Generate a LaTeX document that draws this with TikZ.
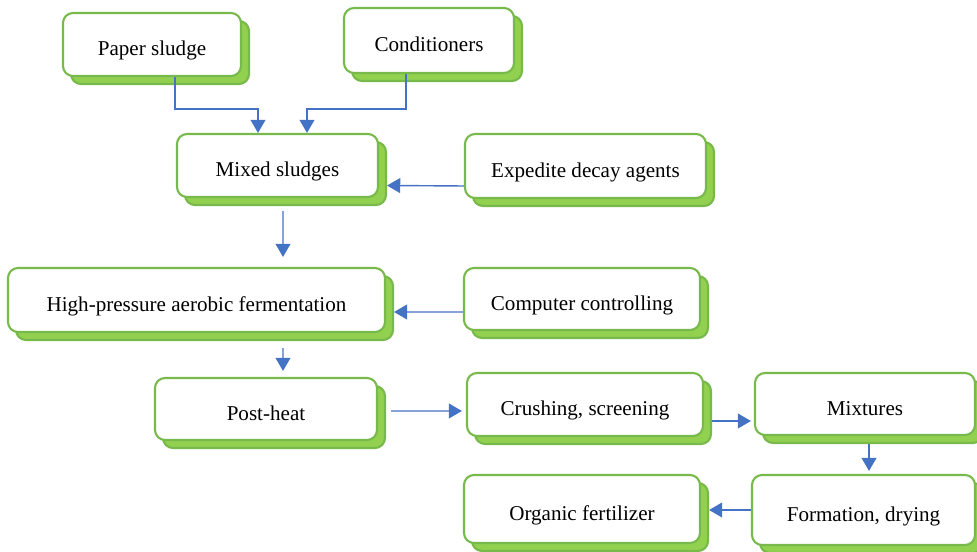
\documentclass[tikz,border=0pt]{standalone}
\usepackage{fontspec}
\setmainfont{Liberation Serif}
\usepackage{tikz}
\usetikzlibrary{shapes}
\usetikzlibrary{calc,shadows,arrows.meta}
\definecolor{boxgreen}{HTML}{77B94A}
\definecolor{shadegreen}{HTML}{92D050}
\definecolor{flowblue}{HTML}{4472C4}
\tikzstyle{stage}=[draw=boxgreen, line width=1.2pt, fill=white, rounded corners=0.2cm,
  font=\fontsize{12}{14}\selectfont, text height=13pt, text depth=0pt,
  general shadow={fill=shadegreen, draw=boxgreen, line width=1.2pt, shadow xshift=0.16cm, shadow yshift=-0.16cm}]
\tikzstyle{flow}=[draw=flowblue, line width=0.8pt, -{Triangle[width=8.5pt,length=7.5pt]}]

\begin{document}
\begin{tikzpicture}
\useasboundingbox (0,0) rectangle (19.54,-11.04);
\node[stage, minimum width=3.56cm, minimum height=1.26cm] (paper) at (3.04,-0.89) {Paper sludge};
\node[stage, minimum width=3.40cm, minimum height=1.30cm] (cond) at (8.58,-0.81) {Conditioners};
\node[stage, minimum width=4.02cm, minimum height=1.26cm] (mixed) at (5.55,-3.31) {Mixed sludges};
\node[stage, minimum width=4.82cm, minimum height=1.28cm] (expd) at (11.71,-3.32) {Expedite decay agents};
\node[stage, minimum width=7.54cm, minimum height=1.28cm] (hp) at (3.93,-6.00) {High-pressure aerobic fermentation};
\node[stage, minimum width=4.72cm, minimum height=1.24cm] (comp) at (11.64,-5.98) {Computer controlling};
\node[stage, minimum width=4.44cm, minimum height=1.24cm] (post) at (5.32,-8.18) {Post-heat};
\node[stage, minimum width=4.72cm, minimum height=1.26cm] (crush) at (11.70,-8.09) {Crushing, screening};
\node[stage, minimum width=4.40cm, minimum height=1.24cm] (mixt) at (17.30,-8.08) {Mixtures};
\node[stage, minimum width=4.46cm, minimum height=1.40cm] (form) at (17.27,-10.20) {Formation, drying};
\node[stage, minimum width=4.72cm, minimum height=1.36cm] (org) at (11.64,-10.18) {Organic fertilizer};
\draw[flow] ($(paper.south)+(.46,0)$) |- ($(mixed.north)+(-.39,.48)$) -- ($(mixed.north)+(-.39,0)$);
\draw[flow] ($(cond.south)+(-.46,0)$) |- ($(mixed.north)+(.59,.48)$) -- ($(mixed.north)+(.59,0)$);
\draw[flow] ($(expd.west)+(0,-.4)$) -- ($(mixed.east)+(.16,-.4)$);
\draw[flow] ($(mixed.south)+(.11,-.26)$) -- ($(hp.north)+(1.73,.2)$);
\draw[flow] ($(comp.west)+(0,-.26)$) -- ($(hp.east)+(.16,-.24)$);
\draw[flow] ($(hp.south)+(1.73,-.3)$) -- ($(post.north)+(.34,.12)$);
\draw[flow] ($(post.east)+(.26,-.04)$) -- ($(crush.west)+(-.08,-.13)$);
\draw[flow] ($(crush.east)+(.16,-.33)$) -- ($(mixt.west)+(-.06,-.34)$);
\draw[flow] ($(mixt.south)+(.08,-.16)$) -- ($(form.north)+(.11,.06)$);
\draw[flow] (form.west) -- ($(org.east|-form.west)+(.16,0)$);
\end{tikzpicture}
\end{document}
